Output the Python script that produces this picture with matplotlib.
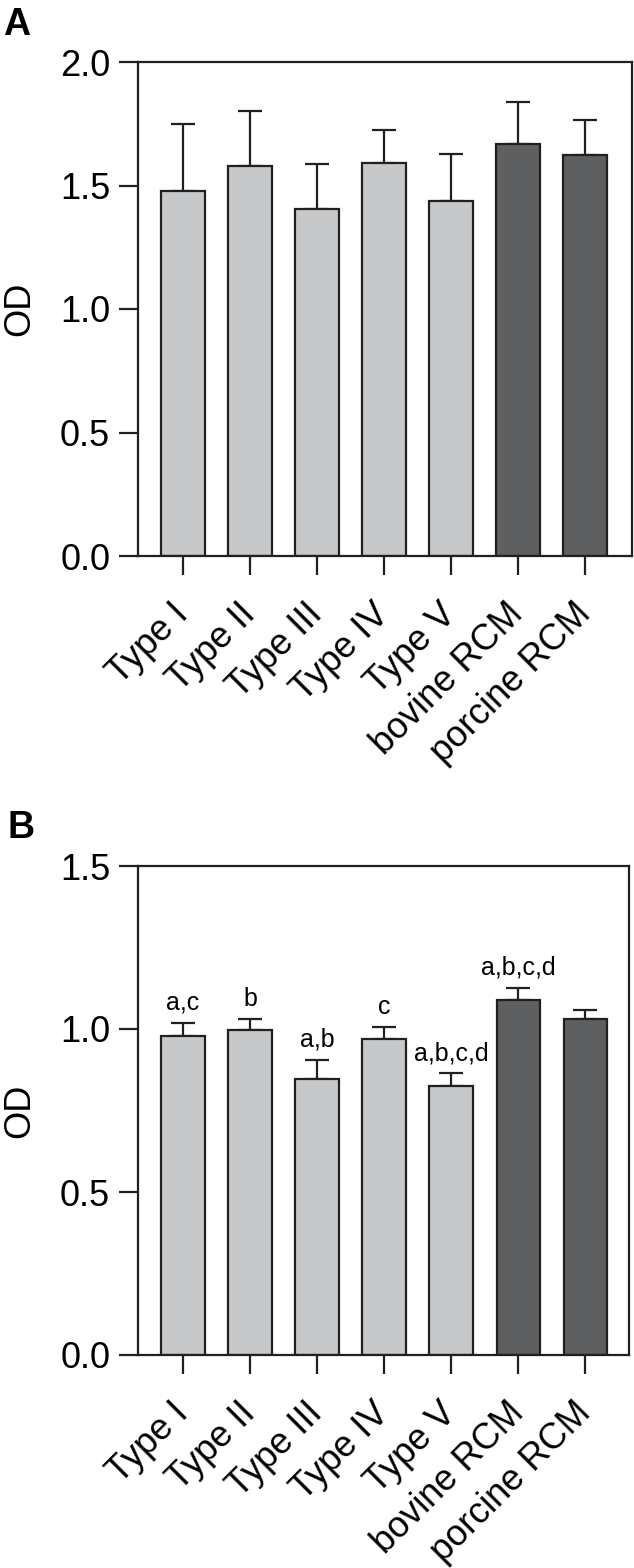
import matplotlib
matplotlib.use("Agg")
import matplotlib.pyplot as plt
import numpy as np

plt.rcParams['font.family'] = ['Liberation Sans', 'DejaVu Sans']

categories = ["Type I", "Type II", "Type III", "Type IV", "Type V", "bovine RCM", "porcine RCM"]

# panel A
od_a = [1.478, 1.579, 1.406, 1.592, 1.438, 1.669, 1.625]
err_a = [0.271, 0.221, 0.181, 0.134, 0.191, 0.169, 0.140]

# panel B
od_b = [0.978, 0.996, 0.847, 0.968, 0.826, 1.090, 1.032]
err_b = [0.040, 0.035, 0.059, 0.038, 0.038, 0.035, 0.025]
labels_b = ["a,c", "b", "a,b", "c", "a,b,c,d", "a,b,c,d", ""]

light = "#c7c8ca"
dark = "#5e5f61"
ink = "#231f20"
colors = [light] * 5 + [dark] * 2

W, H = 634, 1568
fig = plt.figure(figsize=(W / 100, H / 100), dpi=100)


def panel(box, vals, errs, ymax, yticks, right_px):
    left, top, bottom = box
    ax = fig.add_axes([left / W, 1 - bottom / H, (right_px - left) / W, (bottom - top) / H])
    x = np.arange(len(categories))
    ax.bar(x, vals, width=0.65, color=colors, edgecolor=ink, linewidth=1.6, zorder=2)
    ax.errorbar(x, vals, yerr=[np.zeros(len(vals)), errs], fmt="none",
                ecolor=ink, elinewidth=1.6, capsize=8.6, capthick=1.6, zorder=1)
    ax.set_xlim(-0.67, 6.7 if right_px > 630 else 6.65)
    ax.set_ylim(0, ymax)
    ax.set_yticks(yticks)
    ax.set_yticklabels([f"{t:.1f}" for t in yticks])
    ax.set_xticks(x)
    ax.set_xticklabels(categories, rotation=45, ha="right", va="center",
                       rotation_mode="anchor")
    for s in ax.spines.values():
        s.set_color(ink)
        s.set_linewidth(1.6)
    ax.tick_params(axis="y", direction="out", length=14, width=1.6, color=ink,
                   labelsize=26, pad=6)
    ax.tick_params(axis="x", direction="out", length=14, width=1.6, color=ink,
                   labelsize=26, pad=24)
    fig.text(20 / W, 1 - (top + bottom) / 2 / H, "OD", rotation=90, ha="center",
             va="center", fontsize=26)
    return ax


ax_a = panel((138, 62, 556), od_a, err_a, 2.0, [0.0, 0.5, 1.0, 1.5, 2.0], 632)
ax_b = panel((138, 866, 1355), od_b, err_b, 1.5, [0.0, 0.5, 1.0, 1.5], 629)

for i, lab in enumerate(labels_b):
    if lab:
        ax_b.annotate(lab, (i, od_b[i] + err_b[i]), xytext=(0, 6),
                      textcoords="offset points", ha="center", va="bottom",
                      fontsize=18)

fig.text(3 / W, 1 - 35 / H, "A", fontsize=27, fontweight="bold", va="baseline")
fig.text(8 / W, 1 - 838 / H, "B", fontsize=27, fontweight="bold", va="baseline")

fig.savefig("out.png", dpi=100)
